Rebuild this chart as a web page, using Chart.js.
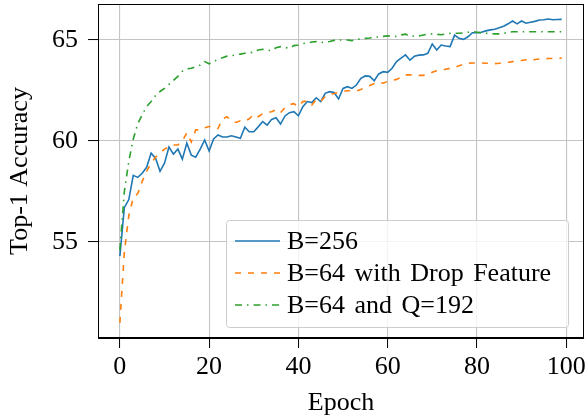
<!DOCTYPE html>
<html><head><meta charset="utf-8">
<script src="https://cdn.jsdelivr.net/npm/chart.js@4/dist/chart.umd.min.js"></script>
<style>html,body{margin:0;padding:0;background:#fff}</style>
</head><body>
<canvas id="c" width="588" height="420" style="width:588px;height:420px;display:block"></canvas>
<script>
const epochs = [0,1,2,3,4,5,6,7,8,9,10,11,12,13,14,15,16,17,18,19,20,21,22,23,24,25,26,27,28,29,30,31,32,33,34,35,36,37,38,39,40,41,42,43,44,45,46,47,48,49,50,51,52,53,54,55,56,57,58,59,60,61,62,63,64,65,66,67,68,69,70,71,72,73,74,75,76,77,78,79,80,81,82,83,84,85,86,87,88,89,90,91,92,93,94,95,96,97,98,99];

const seriesLabels = ['B=256', 'B=64 with Drop Feature', 'B=64 and Q=192'];

const accB256 = [54.3,56.7,57.1,58.3,58.2,58.4,58.7,59.4,59.15,58.5,58.9,59.7,59.35,59.6,59.1,59.9,59.3,59.2,59.6,60.05,59.5,60.1,60.3,60.2,60.2,60.26,60.2,60.13,60.68,60.46,60.46,60.7,60.96,60.79,61.07,61.15,60.84,61.24,61.4,61.45,61.25,61.7,61.95,61.9,62.14,61.95,62.36,62.44,62.4,62.08,62.6,62.69,62.6,62.77,63.1,63.22,63.2,62.98,63.32,63.43,63.4,63.6,63.93,64.1,64.26,64.0,64.2,64.25,64.26,64.34,64.8,64.5,64.75,64.7,64.67,65.24,65.08,65.03,65.16,65.36,65.36,65.38,65.45,65.5,65.53,65.6,65.68,65.8,65.94,65.8,65.94,65.83,65.88,65.92,65.99,66.0,66.04,66.0,66.01,66.02];

const accDrop = [51.0,54.5,56.3,57.2,57.4,58.0,58.5,58.9,59.2,59.4,59.6,59.7,59.8,59.8,60.0,60.4,59.95,60.55,60.55,60.65,60.72,60.7,60.62,61.1,61.2,61.0,60.92,61.0,60.98,61.1,61.32,61.2,61.35,61.42,61.45,61.55,61.4,61.65,61.8,61.85,61.7,61.95,61.98,61.78,62.06,61.95,62.2,62.32,62.35,62.4,62.45,62.49,62.48,62.47,62.55,62.65,62.75,62.85,62.9,62.86,62.95,63.0,63.05,63.15,63.27,63.27,63.26,63.25,63.25,63.3,63.4,63.48,63.5,63.55,63.6,63.65,63.72,63.8,63.85,63.86,63.86,63.86,63.85,63.84,63.83,63.85,63.88,63.9,63.93,63.95,63.98,64.02,63.98,64.03,64.06,64.07,64.08,64.08,64.09,64.1];

const accQ192 = [54.6,57.5,59.0,60.1,60.85,61.3,61.7,61.95,62.25,62.45,62.6,62.8,63.0,63.2,63.45,63.57,63.6,63.68,63.75,63.93,63.82,63.93,64.05,64.12,64.2,64.22,64.27,64.3,64.34,64.36,64.4,64.5,64.54,64.5,64.47,64.62,64.67,64.63,64.59,64.72,64.75,64.82,64.85,64.9,64.92,64.87,64.9,64.92,64.98,65.0,65.0,65.0,64.97,65.02,65.05,65.08,65.1,65.14,65.15,65.18,65.2,65.19,65.17,65.25,65.29,65.17,65.2,65.2,65.25,65.28,65.3,65.28,65.26,65.3,65.33,65.33,65.33,65.35,65.38,65.41,65.38,65.35,65.33,65.32,65.3,65.3,65.33,65.37,65.41,65.41,65.41,65.41,65.41,65.41,65.41,65.41,65.41,65.41,65.41,65.41];

const xTickValues = [0,20,40,60,80,100];
const yTickValues = [55,60,65];

const FONT = {family: "'Liberation Serif', 'DejaVu Serif', serif", size: 26};

function pts(ys){ return epochs.map((e,i)=>({x:e, y:ys[i]})); }

const frameAndLegend = {
  id: 'frameAndLegend',
  afterDatasetsDraw(chart){
    const ctx = chart.ctx;
    ctx.save();
    const x0 = 226.5, y0 = 220.5, w = 342, h = 107, r = 3;
    ctx.beginPath();
    ctx.moveTo(x0+r,y0); ctx.lineTo(x0+w-r,y0); ctx.arcTo(x0+w,y0,x0+w,y0+r,r);
    ctx.lineTo(x0+w,y0+h-r); ctx.arcTo(x0+w,y0+h,x0+w-r,y0+h,r);
    ctx.lineTo(x0+r,y0+h); ctx.arcTo(x0,y0+h,x0,y0+h-r,r);
    ctx.lineTo(x0,y0+r); ctx.arcTo(x0,y0,x0+r,y0,r); ctx.closePath();
    ctx.fillStyle = 'rgba(255,255,255,0.8)';
    ctx.fill();
    ctx.strokeStyle = '#cccccc'; ctx.lineWidth = 1; ctx.stroke();
    const rows = [241, 273, 305];
    chart.data.datasets.forEach((ds, i) => {
      const y = rows[i];
      ctx.beginPath();
      ctx.setLineDash(ds.borderDash || []);
      ctx.strokeStyle = ds.borderColor; ctx.lineWidth = ds.borderWidth;
      ctx.moveTo(235, y); ctx.lineTo(280, y); ctx.stroke();
      ctx.setLineDash([]);
      ctx.fillStyle = '#000';
      ctx.font = FONT.size + 'px ' + FONT.family;
      if ('wordSpacing' in ctx) ctx.wordSpacing = '3px';
      ctx.textBaseline = 'middle'; ctx.textAlign = 'left';
      ctx.fillText(ds.label, 287, y + 1);
    });
    ctx.restore();
  },
  afterDraw(chart){
    const {ctx, chartArea:a} = chart;
    ctx.save();
    ctx.strokeStyle = '#000'; ctx.lineWidth = 1;
    ctx.strokeRect(Math.round(a.left)+0.5, Math.round(a.top)+0.5, Math.round(a.right-a.left)-1, Math.round(a.bottom-a.top)-1);
    ctx.restore();
  }
};

new Chart(document.getElementById('c'), {
  type: 'line',
  data: {
    datasets: [
      {label: seriesLabels[0], data: pts(accB256), borderColor: '#1f77b4', borderWidth: 1.6, pointRadius: 0, fill: false, tension: 0, order: 2},
      {label: seriesLabels[1], data: pts(accDrop), borderColor: '#ff7f0e', borderWidth: 1.6, borderDash: [6,7], pointRadius: 0, fill: false, tension: 0, order: 1},
      {label: seriesLabels[2], data: pts(accQ192), borderColor: '#2ca02c', borderWidth: 1.6, borderDash: [7,5,1.5,5], pointRadius: 0, fill: false, tension: 0, order: 0}
    ]
  },
  options: {
    responsive: false, animation: false, devicePixelRatio: 1,
    layout: {padding: {top: 4, right: 4, left: 0, bottom: 0}},
    plugins: {legend: {display: false}, tooltip: {enabled: false}},
    scales: {
      x: {
        type: 'linear', min: -4.9, max: 104,
        afterBuildTicks: s => { s.ticks = xTickValues.map(v => ({value: v})); },
        afterFit: s => { s.height = 82; s.paddingLeft = 0; s.paddingRight = 0; },
        grid: {color: '#c4c4c4', lineWidth: 1.1, tickLength: 10, tickColor: '#000', tickWidth: 1},
        border: {display: true, color: '#000', width: 1},
        ticks: {font: FONT, color: '#000', padding: 4, maxRotation: 0, autoSkip: false, callback: v => String(v)},
        title: {display: true, text: 'Epoch', font: FONT, color: '#000', padding: {top: 0, bottom: 1}}
      },
      y: {
        type: 'linear', min: 50.25, max: 66.78,
        afterBuildTicks: s => { s.ticks = yTickValues.map(v => ({value: v})); },
        afterFit: s => { s.width = 98; s.paddingTop = 0; s.paddingBottom = 0; },
        grid: {color: '#c4c4c4', lineWidth: 1.1, tickLength: 10, tickColor: '#000', tickWidth: 1},
        border: {display: true, color: '#000', width: 1},
        ticks: {font: FONT, color: '#000', padding: 10, autoSkip: false, callback: v => String(v)},
        title: {display: true, text: 'Top-1 Accuracy', font: FONT, color: '#000', padding: {top: 5, bottom: 0}}
      }
    }
  },
  plugins: [frameAndLegend]
});
</script>
</body></html>
